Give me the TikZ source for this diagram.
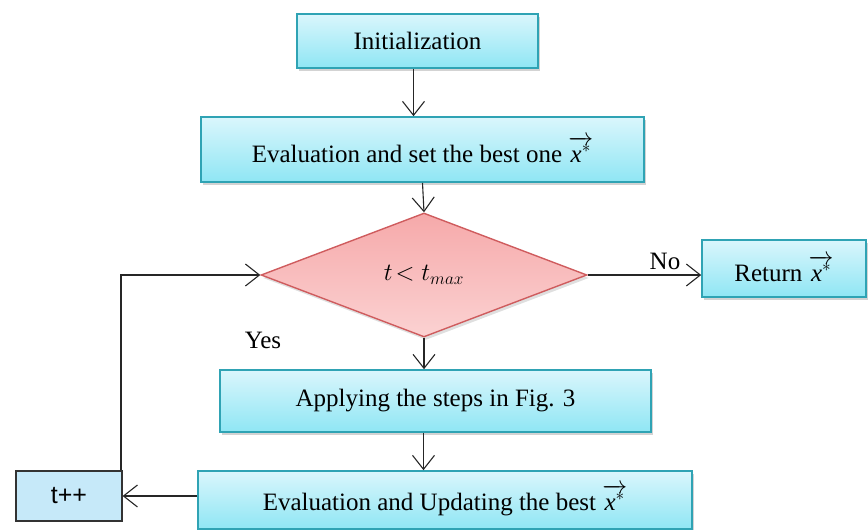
\documentclass[tikz,border=0pt]{standalone}
\usepackage{fontspec}
\setmainfont{Liberation Serif}
\newfontfamily\arialfont{Liberation Sans}
\usetikzlibrary{shapes.geometric,arrows.meta,shadows}
\definecolor{boxtop}{HTML}{DAF6FC}
\definecolor{boxbot}{HTML}{8FE6F4}
\definecolor{boxline}{HTML}{2FA3B4}
\definecolor{diatop}{HTML}{F6A9AA}
\definecolor{diabot}{HTML}{FBD2D2}
\definecolor{dialine}{HTML}{CF5C5E}
\definecolor{tppfill}{HTML}{C6E9F9}
\newcommand{\bestx}{$\overrightarrow{\textit{x}^{*}}$}
\begin{document}
\begin{tikzpicture}[x=1pt,y=-1pt,
  every node/.style={font=\fontsize{25}{29}\selectfont},
  procbox/.style={rectangle, draw=boxline, line width=1.6pt, top color=boxtop, bottom color=boxbot,
    inner sep=0pt, drop shadow={shadow xshift=2pt, shadow yshift=-3pt, opacity=0.35}},
  decision/.style={diamond, draw=dialine, line width=1.4pt, top color=diatop, bottom color=diabot,
    inner sep=0pt, minimum width=326pt, minimum height=124pt,
    drop shadow={shadow xshift=2pt, shadow yshift=-3pt, opacity=0.25}},
  smallbox/.style={rectangle, draw=black!80, line width=1.2pt, fill=tppfill, inner sep=0pt},
  arr/.style={draw=black!85, line width=1.1pt, -{Straight Barb[length=14pt,width=22pt,line width=1.1pt]}},
  lbl/.style={inner sep=0pt}
]
\useasboundingbox (0,0) rectangle (868,530);
\node[procbox, minimum width=241pt, minimum height=54pt] (init) at (417.5,41) {Initialization};
\node[procbox, minimum width=443pt, minimum height=65pt] (eval) at (422.5,149.5) {Evaluation and set the best one \bestx};
\node[decision] (dia) at (424,275) {$t\!< t_{max}$};
\node[procbox, minimum width=164pt, minimum height=57pt] (ret) at (784,268.5) {Return \bestx};
\node[procbox, minimum width=431pt, minimum height=62pt] (apply) at (435.5,401) {Applying the steps in Fig. 3};
\node[procbox, minimum width=494pt, minimum height=58pt] (upd) at (445,500) {Evaluation and Updating the best \bestx};
\node[smallbox, minimum width=106pt, minimum height=50pt] (tpp) at (69,496) {\arialfont t++};
\node[lbl] (yes) at (263,340) {Yes};
\node[lbl] (no) at (665,261) {No};
\draw[arr] ([xshift=-4pt]init.south) -- ([xshift=-4pt]init.south |- eval.north);
\draw[arr] (eval.south) -- (dia.north);
\draw[arr] (dia.east) -- (dia.east -| ret.west);
\draw[arr] (dia.south) -- (dia.south |- apply.north);
\draw[arr] ([xshift=-12pt]apply.south) -- ([xshift=-12pt]apply.south |- upd.north);
\draw[arr] (upd.west |- tpp.east) -- (tpp.east);
\draw[arr] ([xshift=52pt]tpp.north) |- (dia.west);
\end{tikzpicture}
\end{document}
